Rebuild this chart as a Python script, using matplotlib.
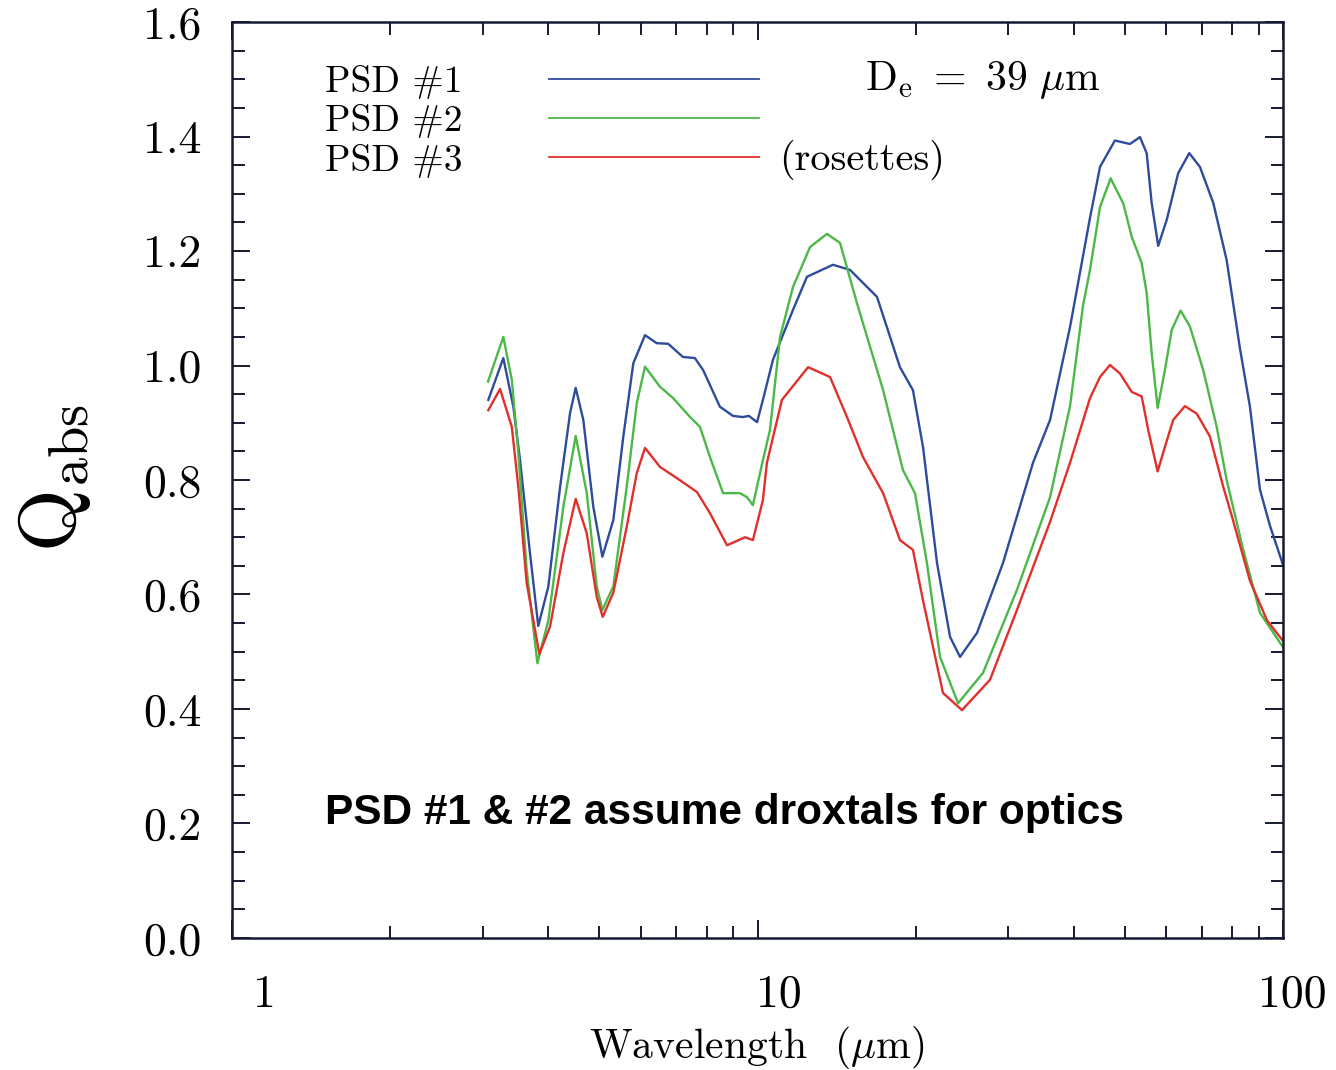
import numpy as np
import matplotlib
matplotlib.use('Agg')
import matplotlib.pyplot as plt
import matplotlib.transforms as mtransforms
from matplotlib.ticker import LogLocator, MultipleLocator, NullFormatter, FormatStrFormatter

# wavelength [um] and Q_abs for each PSD
wl_1 = [3.074, 3.283, 3.430, 3.532, 3.690, 3.826, 3.999, 4.210, 4.398, 4.508, 4.661, 4.870, 5.067,
        5.316, 5.554, 5.803, 6.108, 6.430, 6.76, 7.21, 7.60, 7.88, 8.48, 8.98, 9.38, 9.63, 9.98,
        10.24, 10.70, 11.68, 12.42, 13.92, 15.00, 16.88, 18.67, 19.76, 20.65, 21.96, 23.25, 24.29,
        26.17, 29.32, 33.44, 36.04, 39.33, 42.93, 44.86, 47.88, 51.14, 53.44, 55.03, 56.25, 57.89,
        60.07, 63.19, 66.32, 69.50, 73.69, 78.14, 82.82, 86.53, 90.42, 94.47, 100]
q_1 = [0.940, 1.013, 0.928, 0.835, 0.672, 0.545, 0.614, 0.788, 0.917, 0.961, 0.905, 0.753, 0.666,
       0.730, 0.876, 1.004, 1.053, 1.039, 1.038, 1.015, 1.013, 0.992, 0.928, 0.912, 0.910, 0.912,
       0.901, 0.940, 1.010, 1.097, 1.155, 1.176, 1.167, 1.120, 0.997, 0.957, 0.858, 0.655, 0.526,
       0.491, 0.533, 0.655, 0.830, 0.905, 1.067, 1.258, 1.347, 1.393, 1.387, 1.399, 1.371, 1.284,
       1.209, 1.254, 1.336, 1.371, 1.347, 1.284, 1.184, 1.030, 0.928, 0.783, 0.720, 0.652]

wl_2 = [3.07, 3.283, 3.407, 3.506, 3.637, 3.811, 3.999, 4.270, 4.508, 4.732, 4.943, 5.067, 5.316,
        5.637, 5.891, 6.108, 6.52, 6.91, 7.44, 7.77, 8.12, 8.60, 9.26, 9.55, 9.80, 10.24, 10.56,
        11.04, 11.68, 12.59, 13.56, 14.36, 15.46, 17.34, 18.92, 19.94, 21.01, 22.25, 24.08, 26.86,
        31.17, 36.04, 39.33, 41.63, 42.93, 44.86, 46.99, 49.67, 51.54, 53.84, 55.03, 56.25, 57.74,
        59.62, 61.40, 63.86, 66.53, 70.51, 74.79, 78.14, 83.92, 90.42, 100]
q_2 = [0.972, 1.050, 0.975, 0.847, 0.643, 0.480, 0.555, 0.753, 0.877, 0.777, 0.614, 0.573, 0.614,
       0.788, 0.934, 0.998, 0.963, 0.943, 0.910, 0.893, 0.840, 0.777, 0.777, 0.770, 0.756, 0.835,
       0.887, 1.050, 1.137, 1.207, 1.230, 1.214, 1.109, 0.957, 0.817, 0.777, 0.655, 0.491, 0.410,
       0.463, 0.608, 0.770, 0.929, 1.104, 1.167, 1.277, 1.327, 1.283, 1.225, 1.179, 1.127, 1.022,
       0.926, 0.992, 1.062, 1.096, 1.068, 0.992, 0.893, 0.800, 0.680, 0.568, 0.508]

wl_3 = [3.074, 3.236, 3.407, 3.506, 3.637, 3.844, 4.029, 4.270, 4.508, 4.732, 4.943, 5.075, 5.316,
        5.637, 5.891, 6.108, 6.52, 7.03, 7.67, 8.12, 8.75, 9.47, 9.80, 10.24, 10.42, 11.13, 12.48,
        13.74, 14.80, 15.88, 17.34, 18.67, 19.76, 20.65, 22.54, 24.50, 27.70, 31.17, 36.04, 39.33,
        42.93, 44.86, 46.86, 48.96, 51.54, 53.84, 55.42, 57.74, 59.62, 61.82, 65.08, 68.52, 72.61,
        76.98, 80.33, 86.53, 93.24, 100]
q_3 = [0.922, 0.959, 0.893, 0.788, 0.620, 0.496, 0.544, 0.672, 0.767, 0.707, 0.596, 0.561, 0.603,
       0.718, 0.812, 0.856, 0.823, 0.803, 0.779, 0.742, 0.686, 0.700, 0.695, 0.765, 0.830, 0.940,
       0.997, 0.980, 0.910, 0.840, 0.777, 0.695, 0.678, 0.590, 0.428, 0.398, 0.451, 0.573, 0.727,
       0.830, 0.943, 0.980, 1.001, 0.986, 0.954, 0.946, 0.887, 0.815, 0.858, 0.905, 0.929, 0.916,
       0.876, 0.788, 0.730, 0.624, 0.555, 0.519]

labels = ['PSD #1', 'PSD #2', 'PSD #3']
colors = ['#2f4b9c', '#4cb847', '#e0302c']
xticks = [1, 10, 100]
xtick_labels = ['1', '10', '100']

plt.rcParams['mathtext.fontset'] = 'cm'
plt.rcParams['font.family'] = 'cmr10'
plt.rcParams['axes.formatter.use_mathtext'] = True

fig = plt.figure(figsize=(13.36, 10.70), dpi=100)
ax = fig.add_axes([0.1737, 0.1234, 0.7866, 0.856])

for wl, q, c, lab in zip([wl_1, wl_2, wl_3], [q_1, q_2, q_3], colors, labels):
    ax.plot(wl, q, color=c, lw=1.7, label=lab)

ax.set_xscale('log')
ax.set_xlim(1, 100)
ax.set_ylim(0, 1.6)

ax.set_xticks(xticks)
ax.set_xticklabels(xtick_labels)
ax.xaxis.set_minor_locator(LogLocator(base=10, subs=range(2, 10)))
ax.xaxis.set_minor_formatter(NullFormatter())
ax.yaxis.set_major_locator(MultipleLocator(0.2))
ax.yaxis.set_minor_locator(MultipleLocator(0.05))
ax.yaxis.set_major_formatter(FormatStrFormatter('%.1f'))

ax.tick_params(which='both', direction='in', top=True, right=True, width=1.4, color='#151a30')
ax.tick_params(which='major', length=13, labelsize=33)
ax.tick_params(which='minor', length=9)
ax.tick_params(axis='x', pad=26)
ax.tick_params(axis='y', pad=22)
for s in ax.spines.values():
    s.set_linewidth(1.8)
    s.set_color('#151a30')

# x tick labels sit to the right of their ticks in the original
shift = mtransforms.ScaledTranslation(0.44, 0, fig.dpi_scale_trans)
for lbl in ax.get_xticklabels():
    lbl.set_horizontalalignment('right')
    lbl.set_transform(lbl.get_transform() + shift)

ax.set_xlabel(r'Wavelength  ($\mu$m)', fontsize=30, va='center')
ax.xaxis.set_label_coords(0.4995, -0.12)
fig.text(0.041, 0.553, r'$\mathrm{Q}_{\rm abs}$', fontsize=58, rotation=90, ha='center', va='center')

leg = ax.legend(loc='upper left', bbox_to_anchor=(0.0885, 0.953), frameon=False, markerfirst=False,
                handlelength=5.6, handletextpad=2.3, labelspacing=0.14, fontsize=27,
                borderpad=0, borderaxespad=0)
for h in leg.get_lines():
    h.set_linewidth(1.3)

ax.text(0.602, 0.937, r'$\mathrm{D_e\ =\ 39\ \mu m}$', transform=ax.transAxes, fontsize=30,
        ha='left', va='center')
ax.text(0.521, 0.849, '(rosettes)', transform=ax.transAxes, fontsize=29, ha='left', va='center')
ax.text(0.0885, 0.1365, 'PSD #1 & #2 assume droxtals for optics', transform=ax.transAxes,
        fontsize=30.5, fontweight='bold', family='Liberation Sans', ha='left', va='center')

fig.savefig('out.png', dpi=100)
